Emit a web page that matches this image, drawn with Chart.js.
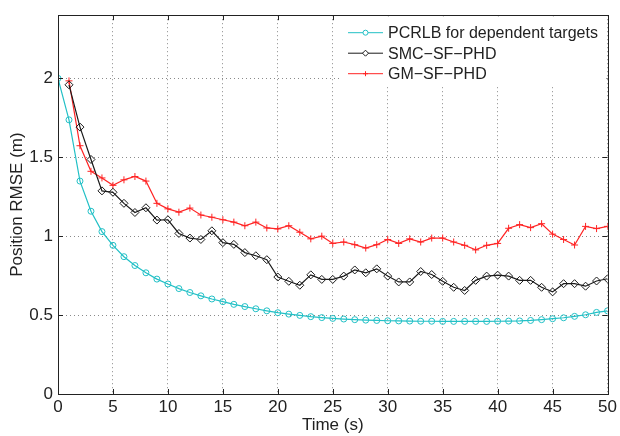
<!DOCTYPE html>
<html>
<head>
<meta charset="utf-8">
<script src="https://cdn.jsdelivr.net/npm/chart.js@4"></script>
<style>
  html, body { margin: 0; padding: 0; background: #fff; }
</style>
</head>
<body>
<canvas id="c" width="620" height="436"></canvas>
<script>
const timeSteps = [0, 1, 2, 3, 4, 5, 6, 7, 8, 9, 10, 11, 12, 13, 14, 15, 16, 17, 18, 19, 20,
  21, 22, 23, 24, 25, 26, 27, 28, 29, 30, 31, 32, 33, 34, 35, 36, 37, 38, 39, 40,
  41, 42, 43, 44, 45, 46, 47, 48, 49, 50]

// PCRLB, t = 0..50
const pcrlb = [2.0, 1.737, 1.349, 1.158, 1.029, 0.942, 0.87, 0.814, 0.768, 0.728, 0.697,
  0.668, 0.643, 0.622, 0.602, 0.585, 0.568, 0.554, 0.54, 0.527, 0.515,
  0.506, 0.498, 0.49, 0.484, 0.479, 0.475, 0.471, 0.468, 0.466, 0.464,
  0.463, 0.462, 0.461, 0.461, 0.46, 0.46, 0.46, 0.46, 0.46, 0.461,
  0.462, 0.463, 0.466, 0.471, 0.477, 0.483, 0.492, 0.502, 0.517, 0.527]

// SMC-SF-PHD, t = 1..50
const smcSfPhd = [1.959, 1.691, 1.486, 1.287, 1.278, 1.208, 1.15, 1.18, 1.102, 1.104,
  1.017, 0.988, 0.979, 1.034, 0.959, 0.948, 0.896, 0.876, 0.851, 0.741,
  0.714, 0.689, 0.755, 0.726, 0.726, 0.747, 0.786, 0.768, 0.793, 0.747,
  0.71, 0.71, 0.776, 0.757, 0.714, 0.676, 0.656, 0.72, 0.747, 0.753,
  0.747, 0.72, 0.72, 0.676, 0.647, 0.699, 0.699, 0.683, 0.716, 0.73]

// GM-SF-PHD, t = 1..50
const gmSfPhd = [1.984, 1.573, 1.411, 1.369, 1.322, 1.357, 1.378, 1.349, 1.208, 1.173,
  1.152, 1.178, 1.134, 1.12, 1.104, 1.089, 1.066, 1.089, 1.052, 1.046,
  1.066, 1.025, 0.983, 1.0, 0.954, 0.963, 0.946, 0.925, 0.946, 0.979,
  0.954, 0.983, 0.963, 0.988, 0.988, 0.963, 0.942, 0.913, 0.942, 0.954,
  1.05, 1.073, 1.054, 1.079, 1.013, 0.979, 0.944, 1.062, 1.048, 1.062]

const seriesNames = ['PCRLB for dependent targets', 'SMC\u2212SF\u2212PHD', 'GM\u2212SF\u2212PHD']

const FONT = '"Liberation Sans", Arial, Helvetica, sans-serif'
const CYAN = '#22c0c6'
const BLACK = '#1a1a1a'
const RED = '#ff2424'

function pts(xs, ys) {
  return ys.map((y, i) => ({ x: xs[i], y: y }))
}

// inward ticks, box frame and legend, like matlab axes
const frameTicks = {
  id: 'frameTicks',
  afterDatasetsDraw(chart) {
    const { ctx, chartArea: a, scales } = chart
    ctx.save()
    ctx.strokeStyle = '#222'
    ctx.lineWidth = 1
    ctx.beginPath()
    scales.x.ticks.forEach(t => {
      const px = Math.round(scales.x.getPixelForValue(t.value)) + 0.5
      ctx.moveTo(px, a.bottom); ctx.lineTo(px, a.bottom - 5)
      ctx.moveTo(px, a.top); ctx.lineTo(px, a.top + 5)
    })
    scales.y.ticks.forEach(t => {
      const py = Math.round(scales.y.getPixelForValue(t.value)) + 0.5
      ctx.moveTo(a.left, py); ctx.lineTo(a.left + 5, py)
      ctx.moveTo(a.right, py); ctx.lineTo(a.right - 5, py)
    })
    ctx.stroke()
    ctx.restore()
  },
  afterDraw(chart) {
    const { ctx, chartArea: a } = chart
    const lx = 340, ly = a.top + 1, lw = a.right - lx - 1, lh = 70
    ctx.save()
    ctx.fillStyle = '#fff'
    ctx.fillRect(lx, ly, lw, lh)
    const styles = [
      { c: CYAN, s: 'circle', r: 2.5 },
      { c: BLACK, s: 'rectRot', r: 3 },
      { c: RED, s: 'cross', r: 2.5 },
    ]
    seriesNames.forEach((name, i) => {
      const y = a.top + 17.5 + i * 20.5
      ctx.strokeStyle = styles[i].c
      ctx.lineWidth = 1
      ctx.beginPath()
      ctx.moveTo(348, y); ctx.lineTo(383, y)
      ctx.stroke()
      ctx.fillStyle = '#fff'
      Chart.helpers.drawPoint(ctx, { pointStyle: styles[i].s, radius: styles[i].r, borderWidth: 1 }, 365.5, y)
      ctx.fillStyle = '#222'
      ctx.font = '16px ' + FONT
      ctx.textBaseline = 'middle'
      ctx.fillText(name, 388, y + 1)
    })
    ctx.strokeStyle = '#222'
    ctx.lineWidth = 1
    ctx.strokeRect(Math.round(a.left) + 0.5, Math.round(a.top) + 0.5,
      Math.round(a.right - a.left), Math.round(a.bottom - a.top))
    ctx.restore()
  },
}

new Chart(document.getElementById('c'), {
  type: 'line',
  data: {
    datasets: [
      {
        label: seriesNames[0],
        data: pts(timeSteps, pcrlb),
        borderColor: CYAN,
        backgroundColor: 'rgba(0,0,0,0)',
        pointStyle: 'circle',
        pointRadius: 3,
        pointBorderWidth: 1,
        borderWidth: 1.2,
      },
      {
        label: seriesNames[1],
        data: pts(timeSteps.slice(1), smcSfPhd),
        borderColor: BLACK,
        backgroundColor: 'rgba(0,0,0,0)',
        pointStyle: 'rectRot',
        pointRadius: 4,
        pointBorderWidth: 1,
        borderWidth: 1.2,
      },
      {
        label: seriesNames[2],
        data: pts(timeSteps.slice(1), gmSfPhd),
        borderColor: RED,
        backgroundColor: 'rgba(0,0,0,0)',
        pointStyle: 'cross',
        pointRadius: 3.5,
        pointBorderWidth: 1,
        borderWidth: 1.2,
      },
    ],
  },
  options: {
    responsive: false,
    animation: false,
    devicePixelRatio: 1,
    layout: { padding: { top: 8, right: 9, left: 0, bottom: 0 } },
    plugins: {
      legend: { display: false },
      tooltip: { enabled: false },
    },
    scales: {
      x: {
        type: 'linear',
        min: 0,
        max: 50,
        ticks: { stepSize: 5, color: '#222', font: { family: FONT, size: 17 }, padding: 3, maxRotation: 0 },
        grid: { color: '#8a8a8a', drawTicks: false },
        border: { display: false, dash: [1, 3] },
        title: { display: true, text: 'Time (s)', color: '#222', font: { family: FONT, size: 17 }, padding: { top: 0, bottom: 0 } },
        afterFit(scale) { scale.height = 42 },
      },
      y: {
        min: 0,
        max: 2.4,
        afterBuildTicks(scale) { scale.ticks = scale.ticks.filter(t => t.value <= 2.0001) },
        ticks: {
          stepSize: 0.5,
          color: '#222',
          font: { family: FONT, size: 17 },
          padding: 5,
          callback: v => String(Number(v.toFixed(2))),
        },
        grid: { color: '#8a8a8a', drawTicks: false },
        border: { display: false, dash: [1, 3] },
        title: { display: true, text: 'Position RMSE (m)', color: '#222', font: { family: FONT, size: 17 }, padding: { top: 7, bottom: 0 } },
        afterFit(scale) { scale.width = 58 },
      },
    },
  },
  plugins: [frameTicks],
})
</script>
</body>
</html>
